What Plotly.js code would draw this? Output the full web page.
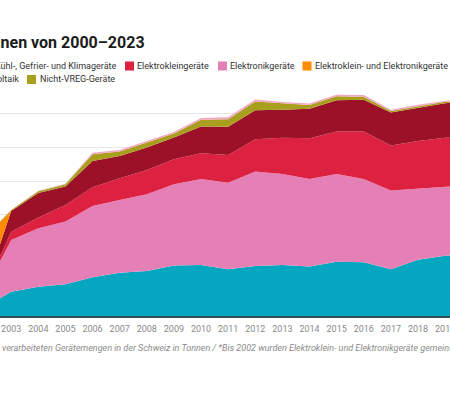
<!DOCTYPE html>
<html>
<head>
<meta charset="utf-8">
<script src="https://cdn.plot.ly/plotly-3.0.1.min.js"></script>
<style>html,body{margin:0;padding:0;background:#fff;}#chart{width:450px;height:395px;}</style>
</head>
<body>
<div id="chart"></div>
<script>
// ---- data (tonnes) ----
const years = [2000,2001,2002,2003,2004,2005,2006,2007,2008,2009,2010,2011,2012,2013,2014,2015,2016,2017,2018,2019,2020,2021,2022,2023];
const seriesNames = ["Grossgeräte","Elektronikgeräte","Elektrokleingeräte","Kühl-, Gefrier- und Klimageräte","Elektroklein- und Elektronikgeräte*","Nicht-VREG-Geräte","Photovoltaik"];
const grossgeraete = [4000,4500,5000,14400,17400,18800,23000,25700,26700,29900,30300,27700,29700,30300,29300,32200,31900,27700,33400,35700,37000,37500,36500,36000];
const elektronik   = [8000,9000,9500,30700,34700,37200,42300,43100,45500,48300,50900,51400,56000,54000,51900,52100,49300,46800,42300,41100,40600,40000,39000,38000];
const kleingeraete = [0,0,0,4900,6300,9900,11100,12900,14400,14800,15400,16400,19200,21500,24300,25100,28300,26600,28100,28900,28600,28000,27500,27000];
const kuehlgeraete = [0,0,0,12300,14500,10900,15600,13200,13400,12900,15800,16800,17100,16600,17500,18600,18800,19600,19700,20500,22000,21000,20000,19500];
const kleinElektronik = [26000,29000,32000,0,0,0,0,0,0,0,0,0,0,0,0,0,0,0,0,0,0,0,0,0];
const nichtVreg    = [0,0,0,600,1100,1300,4000,2700,2800,2400,4000,4400,5300,3600,2100,2400,1700,900,900,900,900,800,800,800];
const photovoltaik = [0,0,0,200,300,300,900,900,900,900,1000,1200,1200,1000,900,900,1100,800,900,700,700,700,700,700];
const seriesValues = [grossgeraete, elektronik, kleingeraete, kuehlgeraete, kleinElektronik, nichtVreg, photovoltaik];
const seriesColors = ["#05a6bf","#e580b7","#dd2140","#9b1127","#ff8b00","#a99f1f","#f3a6bf"];
const yTicks = [0,20000,40000,60000,80000,100000,120000];
const titleText = "Verarbeitete Elektrogeräte in Tonnen von 2000–2023";
const noteText = "verarbeiteten Gerätemengen in der Schweiz in Tonnen / *Bis 2002 wurden Elektroklein- und Elektronikgeräte gemeinsam erfasst.";

// ---- traces ----
const traces = seriesValues.map((vals, i) => ({
  type: "scatter", mode: "lines", x: years, y: vals, name: seriesNames[i],
  stackgroup: "one", line: {width: 0, color: seriesColors[i]},
  fillcolor: seriesColors[i], showlegend: false, hoverinfo: "skip"
}));

// ---- layout helpers (pixel -> paper) ----
const W = 450, H = 395, plotTop = 80, plotBottom = 316;
const px = v => v / W;
const py = v => (plotBottom - v) / (plotBottom - plotTop);
const font = "Roboto, 'Open Sans', sans-serif";

const annotations = [];
const shapes = [];
function label(text, xPix, yPix, anchor, opts) {
  annotations.push(Object.assign({
    text: text, xref: "paper", yref: "paper", x: px(xPix), y: py(yPix),
    xanchor: anchor, yanchor: "middle", showarrow: false, borderpad: 0, borderwidth: 0,
    font: {family: font, size: 9, color: "#333"}
  }, opts || {}));
}
function swatch(color, x0, yc) {
  shapes.push({type: "rect", xref: "paper", yref: "paper", layer: "above",
    x0: px(x0), x1: px(x0 + 9), y0: py(yc + 4.5), y1: py(yc - 4.5),
    fillcolor: color, line: {width: 0}});
}
// title
label(titleText, 145, 43, "right", {font: {family: font, size: 16, color: "#1b1b1b", weight: 700}});
// legend row 1
label(seriesNames[3], 117, 66, "right");
swatch(seriesColors[2], 125, 66); label(seriesNames[2], 137, 66, "left");
swatch(seriesColors[1], 218, 66); label(seriesNames[1], 230, 66, "left");
swatch(seriesColors[4], 302.5, 66); label(seriesNames[4].replace("*",""), 315, 66, "left");
// legend row 2
label(seriesNames[6], 18.5, 79.5, "right");
swatch(seriesColors[5], 27, 79.5); label(seriesNames[5], 40, 79.5, "left");
// footnote
label(noteText, 1.5, 348, "left", {font: {family: font, size: 9, color: "#8a8a8a", style: "italic"}});

const layout = {
  width: W, height: H,
  margin: {l: 0, r: 0, t: plotTop, b: H - plotBottom, pad: 0},
  paper_bgcolor: "#fff", plot_bgcolor: "#fff",
  showlegend: false,
  xaxis: {
    range: [2003 - 11.2/27.12, 2003 + 438.8/27.12],
    tickvals: years, ticktext: years.map(String), ticks: "",
    showgrid: false, zeroline: false, showline: true, linecolor: "#2f4f55", linewidth: 1.5,
    tickfont: {family: font, size: 9, color: "#8a8a8a"}, ticklabelstandoff: 4,
    ticklabeloverflow: "allow", fixedrange: true
  },
  yaxis: {
    range: [0, 140000], tickvals: yTicks, showticklabels: false, ticks: "",
    showgrid: true, gridcolor: "#e6e6e6", gridwidth: 1, zeroline: false, showline: false, fixedrange: true
  },
  annotations: annotations, shapes: shapes
};
Plotly.newPlot("chart", traces, layout, {staticPlot: true, displayModeBar: false});
</script>
</body>
</html>
